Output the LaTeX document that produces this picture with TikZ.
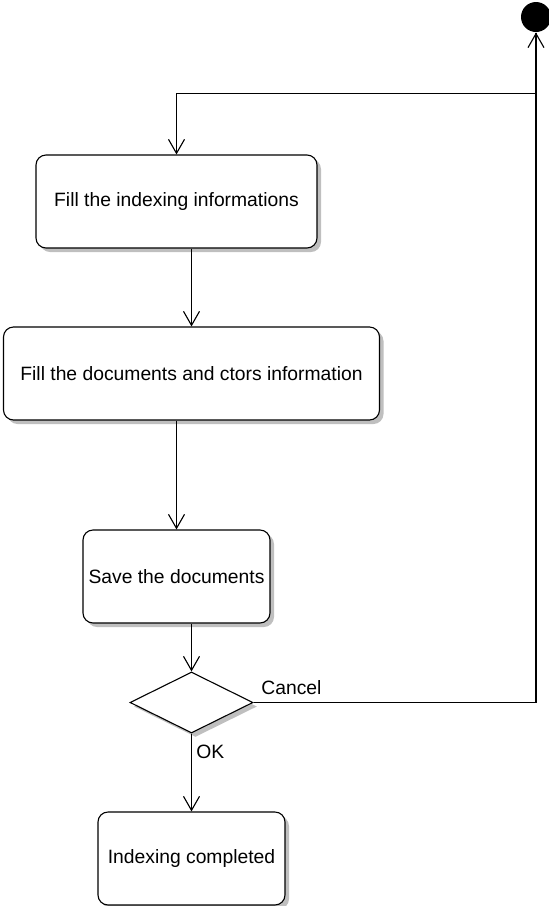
\documentclass[tikz,border=0pt]{standalone}
\usepackage{fontspec}
\setmainfont{Liberation Sans}
\usepackage{tikz}
\usetikzlibrary{
  arrows.meta, calc, positioning,
  shapes.geometric, shadows
}

\begin{document}
\begin{tikzpicture}[node distance=172pt, auto, x=1pt, y=1pt,
  font=\fontsize{19.3}{23}\selectfont, line width=1.1pt,
  >={Straight Barb[length=14pt, width=16pt, line width=1.1pt]},
  activity/.style={draw, fill=white, rounded corners=10pt, minimum height=93pt,
    drop shadow={shadow xshift=4pt, shadow yshift=-4pt, fill=black!25, opacity=1}},
  decision/.style={draw, fill=white, diamond, inner sep=0pt, minimum width=123pt,
    minimum height=61pt,
    drop shadow={shadow xshift=4pt, shadow yshift=-4pt, fill=black!25, opacity=1}},
  initnode/.style={circle, fill=black, inner sep=0pt, minimum size=30pt}]
\useasboundingbox (0,0) rectangle (549,-906);

\node (init) [initnode] at (536,-17) {};
\node (fillidx) [activity, minimum width=281pt] at (176.5,-201.5) {Fill the indexing informations};
\node (filldoc) [activity, minimum width=376pt, below of=fillidx, xshift=15pt] {Fill the documents and ctors information};
\node (save) [activity, minimum width=187pt, below of=filldoc, xshift=-15pt, yshift=-31pt] {Save the documents};
\node (dec) [decision, below of=save, xshift=15pt, yshift=46pt] {};
\node (done) [activity, minimum width=187pt, below of=dec, yshift=16pt] {Indexing completed};

\draw[->] (init.south) -- ++(0,-61) -| (fillidx.north);
\draw[->] (fillidx.south -| filldoc) -- (filldoc);
\draw[->] (filldoc.south -| save) -- (save);
\draw[->] (save.south -| dec) -- (dec);
\draw[->] (dec) -- node[pos=0, anchor=north west, xshift=1pt, yshift=-8pt] {OK} (done);
\draw[->] (dec.east) -| node[pos=0, anchor=south west, xshift=4pt, yshift=4pt] {Cancel} (init);
\end{tikzpicture}
\end{document}
